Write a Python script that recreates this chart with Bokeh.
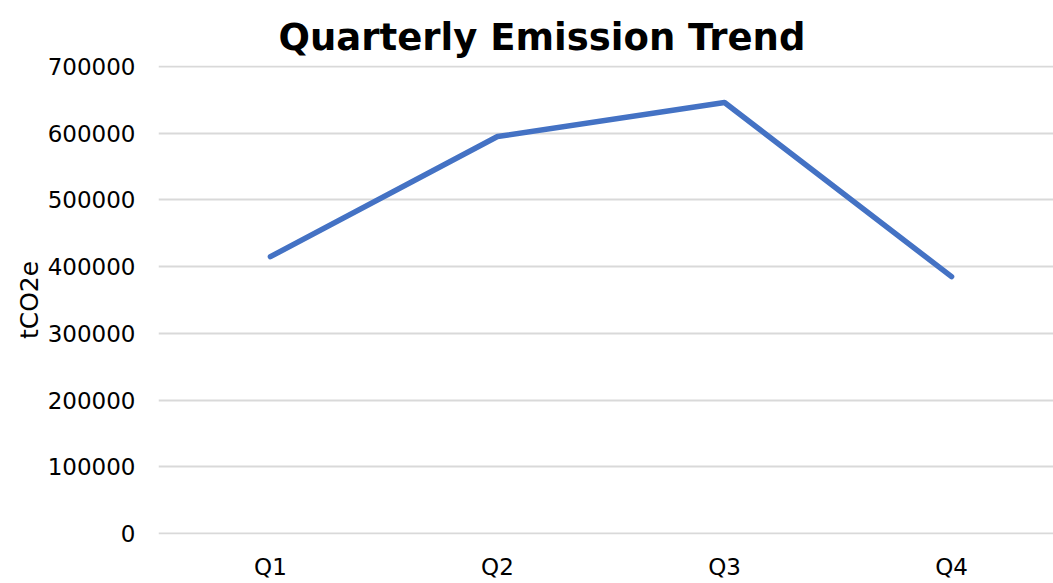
from bokeh.plotting import figure
from bokeh.embed import file_html
from bokeh.resources import INLINE
from bokeh.models import FixedTicker, Range1d

quarters = ["Q1", "Q2", "Q3", "Q4"]
emissions = [415000, 595000, 646000, 385000]
y_ticks = [0, 100000, 200000, 300000, 400000, 500000, 600000, 700000]

xs = [i + 1 for i in range(len(quarters))]

p = figure(width=1053, height=583, output_backend="svg", toolbar_location=None,
           x_range=Range1d(0.507, 4.449), y_range=Range1d(-1500, 701500),
           title="Quarterly Emission Trend")
p.line(xs, emissions, line_color="#4472C4", line_width=5.5, line_cap="round", line_join="round")

p.title.align = "left"
p.title.offset = 120
p.title.vertical_align = "top"
p.title.text_font = "DejaVu Sans"
p.title.text_font_size = "37px"
p.title.text_font_style = "bold"
p.title.text_color = "#000000"
p.title.standoff = 10

p.min_border_left = 158
p.min_border_right = 0
p.min_border_top = 65
p.min_border_bottom = 49
p.outline_line_color = None
p.background_fill_color = "white"
p.border_fill_color = "white"

p.xaxis.ticker = FixedTicker(ticks=xs)
p.xaxis.major_label_overrides = {x: q for x, q in zip(xs, quarters)}
p.yaxis.ticker = FixedTicker(ticks=y_ticks)
p.yaxis.formatter.use_scientific = False

for ax in (p.xaxis, p.yaxis):
    ax.axis_line_color = None
    ax.major_tick_line_color = None
    ax.minor_tick_line_color = None
    ax.major_tick_out = 0
    ax.major_tick_in = 0
    ax.major_label_text_font = "DejaVu Sans"
    ax.major_label_text_font_size = "23px"
    ax.major_label_text_color = "#000000"

p.xaxis.major_label_standoff = 19
p.yaxis.major_label_standoff = 23
p.yaxis.axis_label = "tCO2e"
p.yaxis.axis_label_text_font = "DejaVu Sans"
p.yaxis.axis_label_text_font_size = "25px"
p.yaxis.axis_label_text_font_style = "normal"
p.yaxis.axis_label_text_color = "#000000"
p.yaxis.axis_label_standoff = 1

p.xgrid.grid_line_color = None
p.ygrid.grid_line_color = "#D9D9D9"
p.ygrid.grid_line_width = 2
p.ygrid.ticker = FixedTicker(ticks=y_ticks)

open("out.html", "w").write(file_html(p, INLINE))
